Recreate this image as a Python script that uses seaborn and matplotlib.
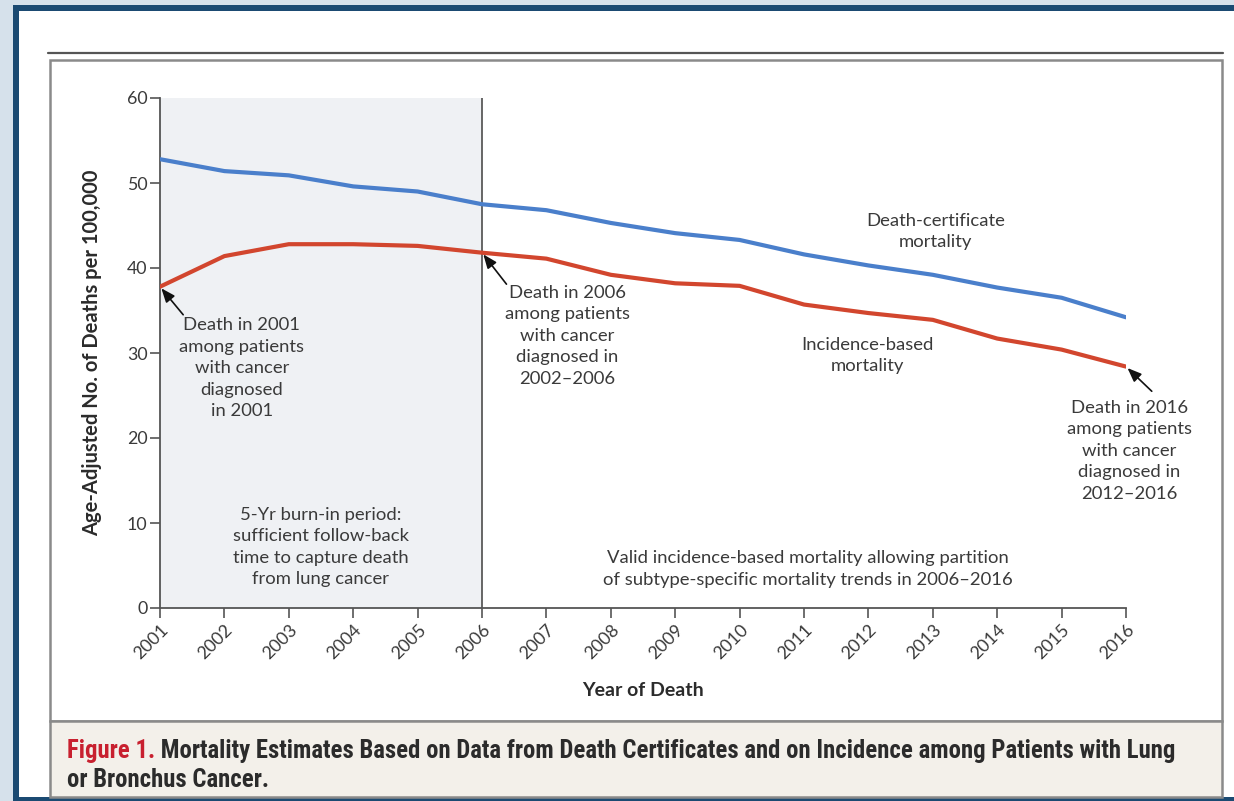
import matplotlib
matplotlib.use("Agg")
import matplotlib.pyplot as plt
from matplotlib import font_manager
from matplotlib.patches import Rectangle
import pandas as pd
import seaborn as sns

# Age-adjusted deaths per 100,000, lung or bronchus cancer
years = list(range(2001, 2017))
death_certificate = [52.8, 51.4, 50.9, 49.6, 49.0, 47.5, 46.8, 45.3,
                     44.1, 43.3, 41.6, 40.3, 39.2, 37.7, 36.5, 34.2]
incidence_based = [37.8, 41.4, 42.8, 42.8, 42.6, 41.8, 41.1, 39.2,
                   38.2, 37.9, 35.7, 34.7, 33.9, 31.7, 30.4, 28.4]
series_names = ["Death-certificate mortality", "Incidence-based mortality"]
y_ticks = [0, 10, 20, 30, 40, 50, 60]
burn_in_end = 2006

df = pd.DataFrame({
    "year": years * 2,
    "rate": death_certificate + incidence_based,
    "series": [series_names[0]] * len(years) + [series_names[1]] * len(years),
})

sns.set_style("ticks")
plt.rcParams["font.family"] = ["Lato", "DejaVu Sans"]

available = {f.name for f in font_manager.fontManager.ttflist}
caption_family = next((n for n in ["Roboto Condensed", "Liberation Sans Narrow"]
                       if n in available), "DejaVu Sans")

TEXT = "#3a3a3a"
BLUE = "#4a7fcb"
RED = "#d2462e"

W, H = 1234, 801
fig = plt.figure(figsize=(W / 100, H / 100), dpi=100)
fig.patch.set_facecolor("#d6e1eb")

# page frame, drawn in pixel units on a full-figure backdrop
bg = fig.add_axes([0, 0, 1, 1], zorder=0)
bg.set_xlim(0, W)
bg.set_ylim(H, 0)
bg.axis("off")
bg.add_patch(Rectangle((13, 5), W, H, facecolor="#1b4a72", edgecolor="none"))
bg.add_patch(Rectangle((19, 11), W, 786, facecolor="white", edgecolor="none"))
bg.plot([48, 1223], [53, 53], color="#555555", lw=1.6)
bg.add_patch(Rectangle((50, 60), 1172, 661, facecolor="white",
                       edgecolor="#8a8a8a", lw=1.8))
bg.add_patch(Rectangle((50, 721), 1172, 76, facecolor="#f3f0ea",
                       edgecolor="#8a8a8a", lw=1.8))

cap = dict(fontsize=17.8, fontweight="bold", family=caption_family, va="center")
fig_label = bg.text(67, 751, "Figure 1.", color="#c8202f", **cap)
bg.annotate(" Mortality Estimates Based on Data from Death Certificates and on "
            "Incidence among Patients with Lung",
            xy=(1, 0.5), xycoords=fig_label, ha="left", color="#2b2b2b", **cap)
bg.text(67, 780, "or Bronchus Cancer.", color="#2b2b2b", **cap)

# main chart
ax = fig.add_axes([160 / W, 193 / H, 966 / W, 510 / H], zorder=1)
ax.set_facecolor("none")
ax.axvspan(years[0], burn_in_end, color="#eff1f4", zorder=0, lw=0)
ax.axvline(burn_in_end, color="#5a5a5a", lw=1.3, zorder=1)

sns.lineplot(data=df, x="year", y="rate", hue="series",
             palette=[BLUE, RED], linewidth=3.0, legend=False, ax=ax, zorder=3)

ax.set_xlim(years[0], years[-1])
ax.set_ylim(y_ticks[0], y_ticks[-1])
ax.set_yticks(y_ticks)
ax.set_xticks(years)
ax.set_xticklabels([str(y) for y in years], rotation=45, ha="right",
                   va="top", rotation_mode="anchor")
for s in ["top", "right"]:
    ax.spines[s].set_visible(False)
for s in ["left", "bottom"]:
    ax.spines[s].set_color("#555555")
    ax.spines[s].set_linewidth(1.3)
ax.tick_params(axis="both", direction="out", length=7, width=1.2,
               color="#555555", labelcolor=TEXT, labelsize=12.8)
ax.tick_params(axis="x", pad=3)
ax.tick_params(axis="y", pad=2)

ax.set_xlabel("Year of Death", fontsize=14, fontweight="bold", color="#2b2b2b",
              labelpad=14)
ax.set_ylabel("Age-Adjusted No. of Deaths per 100,000", fontsize=14.5,
              fontweight="bold", color="#2b2b2b", labelpad=18)

note = dict(ha="center", va="top", color=TEXT, fontsize=13.3,
            multialignment="center", linespacing=1.42)
ax.text(2002.27, 34.2, "Death in 2001\namong patients\nwith cancer\ndiagnosed\nin 2001", **note)
ax.text(2007.32, 38.0, "Death in 2006\namong patients\nwith cancer\ndiagnosed in\n2002–2006", **note)
ax.text(2016.05, 24.5, "Death in 2016\namong patients\nwith cancer\ndiagnosed in\n2012–2016",
        clip_on=False, **note)
ax.text(2013.04, 46.5, "Death-certificate\nmortality", **note)
ax.text(2011.98, 31.9, "Incidence-based\nmortality", **note)
ax.text(2003.5, 11.9, "5-Yr burn-in period:\nsufficient follow-back\n"
        "time to capture death\nfrom lung cancer", **note)
ax.text(2011.06, 6.8, "Valid incidence-based mortality allowing partition\n"
        "of subtype-specific mortality trends in 2006–2016", **note)

arrow = dict(arrowstyle="-|>,head_length=0.7,head_width=0.28", color="#111111",
             lw=1.2, shrinkA=0, shrinkB=1.5, mutation_scale=12)
ax.annotate("", xy=(years[0], incidence_based[0]), xytext=(2001.36, 34.5),
            arrowprops=arrow, annotation_clip=False)
i06 = years.index(burn_in_end)
ax.annotate("", xy=(burn_in_end, incidence_based[i06]), xytext=(2006.38, 38.1),
            arrowprops=arrow, annotation_clip=False)
ax.annotate("", xy=(years[-1], incidence_based[-1]), xytext=(2016.4, 25.5),
            arrowprops=arrow, annotation_clip=False)

fig.savefig("out.png", dpi=100)
